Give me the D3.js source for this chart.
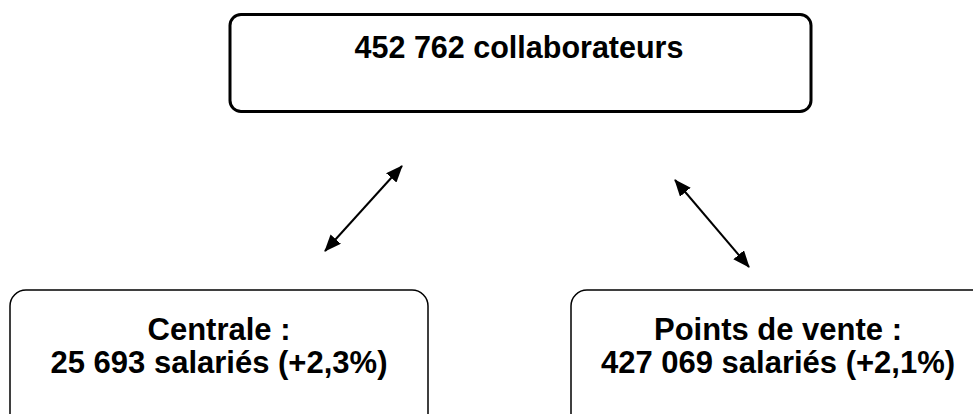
<!DOCTYPE html>
<html>
<head>
<meta charset="utf-8">
<script src="https://cdn.jsdelivr.net/npm/d3@7"></script>
<style>
  html, body { margin: 0; padding: 0; background: #fff; }
</style>
</head>
<body>
<div id="chart"></div>
<script>
// data
const nodeNames = ["total", "centrale", "pdv"];
const nodeLines = [
    ["452 762 collaborateurs"],
    ["Centrale :", "25 693 salariés (+2,3%)"],
    ["Points de vente :", "427 069 salariés (+2,1%)"]
];
const links = [["total", "centrale"], ["total", "pdv"]];

const W = 973, H = 414;

const svg = d3.select("#chart").append("svg")
    .attr("width", W)
    .attr("height", H);

// arrow head markers (both ends)
const defs = svg.append("defs");
["start", "end"].forEach(k => {
    defs.append("marker")
        .attr("id", "arrow-" + k)
        .attr("viewBox", "0 0 17 14")
        .attr("refX", 16)
        .attr("refY", 7)
        .attr("markerWidth", 17)
        .attr("markerHeight", 14)
        .attr("markerUnits", "userSpaceOnUse")
        .attr("orient", k === "start" ? "auto-start-reverse" : "auto")
        .append("path")
        .attr("d", "M0,0 L17,7 L0,14 z")
        .attr("fill", "#000");
});

// box layout
const boxes = {
    total:    { x: 230, y: 14.5, w: 581, h: 97, r: 11, sw: 3,   fs: 30.5, cx: 519, top: 58 },
    centrale: { x: 10,  y: 290,  w: 418, h: 140, r: 16, sw: 1.5, fs: 31,   cx: 219, top: 340 },
    pdv:      { x: 571, y: 290,  w: 420, h: 140, r: 16, sw: 1.5, fs: 31,   cx: 778, top: 340 }
};

// arrows (start -> end points)
const arrowPts = {
    centrale: [[402, 166], [325, 251]],
    pdv:      [[675, 180], [749, 267]]
};

nodeNames.forEach((name, i) => {
    const b = boxes[name];
    const g = svg.append("g");
    g.append("rect")
        .attr("x", b.x)
        .attr("y", b.y)
        .attr("width", b.w)
        .attr("height", b.h)
        .attr("rx", b.r)
        .attr("fill", "#fff")
        .attr("stroke", "#000")
        .attr("stroke-width", b.sw);

    nodeLines[i].forEach((t, j) => {
        g.append("text")
            .attr("x", b.cx)
            .attr("y", b.top + j * 33)
            .attr("text-anchor", "middle")
            .style("font-family", "'Liberation Sans', Arial, sans-serif")
            .style("font-weight", "bold")
            .style("font-size", b.fs + "px")
            .text(t);
    });
});

const line = d3.line();
links.forEach(([src, dst]) => {
    svg.append("path")
        .attr("d", line(arrowPts[dst]))
        .attr("fill", "none")
        .attr("stroke", "#000")
        .attr("stroke-width", 2)
        .attr("marker-start", "url(#arrow-start)")
        .attr("marker-end", "url(#arrow-end)");
});
</script>
</body>
</html>
